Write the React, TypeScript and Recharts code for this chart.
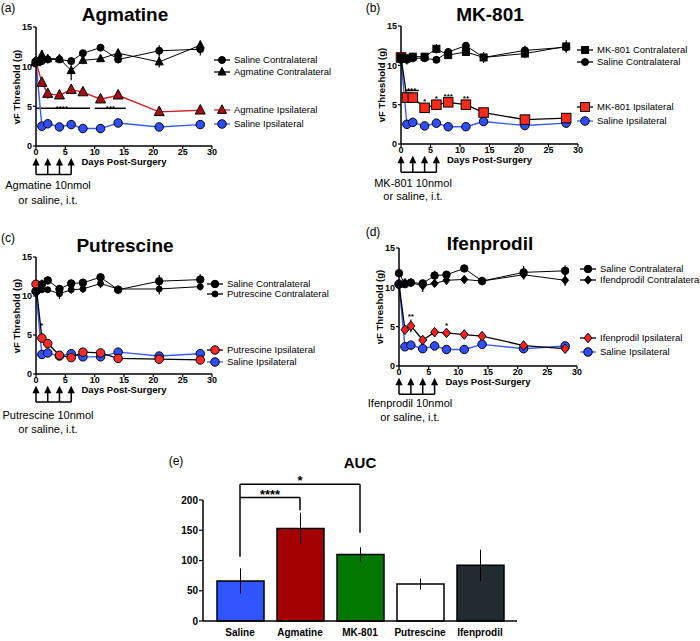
import React from "react";
import {
  Bar,
  BarChart,
  Cell,
  ErrorBar,
  Line,
  LineChart,
  ReferenceDot,
  ReferenceLine,
  XAxis,
  YAxis,
} from "recharts";

const FONT = '"Liberation Sans", Arial, Helvetica, sans-serif';

// shared x values / ticks
const days = [0, 1, 2, 4, 6, 8, 11, 14, 21, 28];
const dayTicks = [0, 5, 10, 15, 20, 25, 30];
const thresholdTicks = [0, 5, 10, 15];
const doseDays = [0, 2, 4, 6];

// (a) Agmatine
const salineContraA = [10.7, 10.7, 10.9, 10.9, 10.7, 11.7, 12.4, 10.9, 12.0, 12.2];
const salineContraErrA = [0.3, 0.4, 0.4, 0.4, 0.5, 0.4, 0.3, 0.4, 0.7, 0.8];
const agmContra = [10.6, 11.5, 11.0, 11.0, 9.5, 10.8, 11.0, 11.7, 10.6, 12.7];
const agmContraErr = [0.3, 0.6, 0.5, 0.5, 1.2, 0.5, 0.4, 0.5, 0.7, 0.6];
const agmIpsi = [10.6, 8.0, 6.6, 6.4, 7.1, 6.8, 5.9, 6.4, 4.3, 4.5];
const agmIpsiErr = [0.3, 0.4, 0.6, 0.4, 0.4, 0.3, 0.5, 0.4, 0.3, 0.3];
const salineIpsiA = [10.6, 2.5, 2.8, 2.4, 2.7, 2.2, 2.2, 2.9, 2.4, 2.7];
const salineIpsiErrA = [0.3, 0.2, 0.2, 0.2, 0.2, 0.2, 0.2, 0.2, 0.2, 0.2];
const starsA = [
  { x: 4.4, y: 5.0, t: "****" },
  { x: 12.7, y: 4.95, t: "***" },
];
const sigLinesA = [
  { x1: 0, x2: 9.2, y: 4.75 },
  { x1: 10, x2: 15.3, y: 4.75 },
];

// (b) MK-801
const mkContra = [11.0, 10.9, 11.1, 11.1, 12.1, 11.3, 11.7, 11.0, 11.5, 12.4];
const mkContraErr = [0.4, 0.5, 0.5, 0.4, 0.6, 0.5, 0.5, 0.5, 0.6, 0.8];
const salineContraB = [10.8, 10.7, 10.9, 10.9, 10.7, 11.7, 12.5, 11.0, 11.9, 12.3];
const salineContraErrB = [0.4, 0.6, 0.5, 0.4, 0.4, 0.5, 0.3, 0.7, 0.6, 0.6];
const mkIpsi = [11.0, 5.9, 5.9, 4.6, 5.0, 5.3, 5.0, 4.0, 3.1, 3.3];
const mkIpsiErr = [0.4, 0.3, 0.3, 0.3, 0.3, 0.3, 0.3, 0.3, 0.3, 0.3];
const salineIpsiB = [10.8, 2.5, 2.75, 2.3, 2.65, 2.2, 2.2, 2.85, 2.35, 2.65];
const salineIpsiErrB = [0.3, 0.2, 0.2, 0.2, 0.2, 0.2, 0.2, 0.2, 0.2, 0.2];
const starsB = [
  { x: 1.8, y: 7.1, t: "***" },
  { x: 4, y: 5.7, t: "*" },
  { x: 6, y: 6.0, t: "*" },
  { x: 8, y: 6.3, t: "***" },
  { x: 11, y: 6.1, t: "**" },
];
const sigLinesB = [{ x1: 0.7, x2: 3.0, y: 6.8 }];

// (c) Putrescine
const salineContraC = [10.6, 11.5, 12.0, 10.9, 11.6, 11.7, 12.4, 10.8, 11.9, 12.1];
const salineContraErrC = [0.8, 0.6, 0.5, 0.5, 0.5, 0.5, 0.3, 0.4, 0.8, 0.7];
const putContra = [10.5, 10.8, 10.8, 10.3, 10.8, 10.9, 11.6, 10.9, 10.9, 11.2];
const putContraErr = [0.5, 0.4, 0.4, 0.7, 0.5, 0.5, 0.6, 0.4, 0.7, 0.5];
const putIpsi = [11.5, 4.6, 3.9, 2.4, 2.1, 2.8, 2.7, 2.0, 1.9, 1.8];
const putIpsiErr = [0.3, 0.3, 0.3, 0.2, 0.2, 0.2, 0.2, 0.2, 0.2, 0.2];
const salineIpsiC = [10.6, 2.5, 2.7, 2.3, 2.6, 2.2, 2.2, 2.8, 2.3, 2.6];
const salineIpsiErrC = [0.3, 0.2, 0.2, 0.2, 0.2, 0.2, 0.2, 0.2, 0.2, 0.2];
const starsC = [{ x: 1, y: 6.5, t: "*" }];

// (d) Ifenprodil
const salineContraD = [11.8, 10.4, 10.6, 10.5, 11.5, 11.6, 12.4, 10.8, 11.9, 12.1];
const salineContraErrD = [0.5, 0.4, 0.4, 0.4, 0.6, 0.5, 0.3, 0.4, 0.8, 0.7];
const ifenContra = [10.4, 10.6, 10.6, 10.2, 10.5, 10.9, 11.0, 10.8, 11.6, 10.9];
const ifenContraErr = [0.4, 0.4, 0.4, 0.8, 0.4, 0.6, 0.3, 0.4, 0.6, 0.7];
const ifenIpsi = [10.4, 4.6, 5.1, 3.3, 4.3, 4.2, 4.0, 3.8, 2.6, 2.2];
const ifenIpsiErr = [0.3, 0.4, 0.8, 0.3, 0.3, 0.3, 0.3, 0.4, 0.2, 0.2];
const salineIpsiD = [10.4, 2.45, 2.65, 2.2, 2.55, 2.1, 2.1, 2.75, 2.2, 2.55];
const salineIpsiErrD = [0.3, 0.2, 0.2, 0.2, 0.2, 0.2, 0.2, 0.2, 0.2, 0.2];
const starsD = [
  { x: 2, y: 6.5, t: "**" },
  { x: 8, y: 5.4, t: "*" },
];

// (e) AUC
const aucGroups = ["Saline", "Agmatine", "MK-801", "Putrescine", "Ifenprodil"];
const aucMean = [66, 153, 110, 61, 92];
const aucSem = [21, 26, 12, 9, 26];
const aucTicks = [0, 50, 100, 150, 200];

const BAR_COLORS = ["#2f55ff", "#a30000", "#007800", "#ffffff", "#212b30"];
const BLUE = "#2f4fff";

type Shape = "circle" | "triangle" | "square" | "diamond";
type Series = {
  name: string;
  values: number[];
  errors: number[];
  shape: Shape;
  fill: string;
  size: number;
  line: string;
  lw: number;
};

function Glyph({ cx, cy, shape, size, fill }: { cx: number; cy: number; shape: Shape; size: number; fill: string }) {
  const r = size / 2;
  const st = { fill, stroke: "#000", strokeWidth: 1 };
  if (shape === "circle") return <circle cx={cx} cy={cy} r={r} {...st} />;
  if (shape === "square") return <rect x={cx - r} y={cy - r} width={size} height={size} {...st} />;
  if (shape === "diamond")
    return <polygon points={`${cx},${cy - r * 1.2} ${cx + r},${cy} ${cx},${cy + r * 1.2} ${cx - r},${cy}`} {...st} />;
  return <polygon points={`${cx},${cy - r * 1.15} ${cx + r},${cy + r * 0.75} ${cx - r},${cy + r * 0.75}`} {...st} />;
}

function Txt({ x, y, size, bold, children, align = "center" }: any) {
  return (
    <div
      style={{
        position: "absolute",
        left: x,
        top: y,
        transform: align === "center" ? "translate(-50%,-50%)" : "translate(0,-50%)",
        fontSize: size,
        fontWeight: bold ? 700 : 400,
        lineHeight: 1,
        whiteSpace: "nowrap",
        color: "#000",
      }}
    >
      {children}
    </div>
  );
}

const axisLine = { stroke: "#000", strokeWidth: 1.5 };
const tickLine = { stroke: "#000", strokeWidth: 1.2 };
const tickFont = { fontSize: 9, fontWeight: 700, fill: "#000", fontFamily: FONT };

// draw saline ipsi first, then drug ipsi, then the contralateral groups on top
const drawOrder = [3, 2, 0, 1];

type PanelProps = {
  plot: { l: number; t: number; r: number; b: number };
  series: Series[];
  legendX: number;
  legendYs: number[];
  title: string;
  titleX: number;
  titleY: number;
  letter: string;
  letterX: number;
  letterY: number;
  dose: string[];
  doseX: number;
  doseY: number;
  doseGap: number;
  stars: { x: number; y: number; t: string }[];
  sigLines: { x1: number; x2: number; y: number }[];
};

function LinePanel(p: PanelProps) {
  const { plot } = p;
  const width = plot.r - plot.l + 44;
  const height = plot.b - plot.t + 61;
  const data = days.map((d, i) => {
    const row: Record<string, number> = { day: d };
    p.series.forEach((s, k) => {
      row[`v${k}`] = s.values[i];
      row[`e${k}`] = s.errors[i];
    });
    return row;
  });
  const cx = (plot.l + plot.r) / 2;
  const cy = (plot.t + plot.b) / 2;
  return (
    <>
      <div style={{ position: "absolute", left: plot.l - 36, top: plot.t - 27 }}>
        <LineChart width={width} height={height} data={data} margin={{ top: 27, right: 8, bottom: 22, left: 14 }}>
          <XAxis
            type="number"
            dataKey="day"
            domain={[0, 30]}
            ticks={dayTicks}
            interval={0}
            height={12}
            tickSize={3}
            tickMargin={0}
            axisLine={axisLine}
            tickLine={tickLine}
            tick={tickFont}
          />
          <YAxis
            type="number"
            domain={[0, 15]}
            ticks={thresholdTicks}
            interval={0}
            width={22}
            tickSize={3}
            tickMargin={1}
            axisLine={axisLine}
            tickLine={tickLine}
            tick={tickFont}
          />
          {p.sigLines.map((s, i) => (
            <ReferenceLine
              key={`sig${i}`}
              segment={[
                { x: s.x1, y: s.y },
                { x: s.x2, y: s.y },
              ]}
              stroke="#000"
              strokeWidth={1.5}
              ifOverflow="visible"
            />
          ))}
          {/* dosing arrows under the axis */}
          <ReferenceLine
            segment={[
              { x: 0, y: -3.6 },
              { x: 6, y: -3.6 },
            ]}
            stroke="#000"
            strokeWidth={1.5}
            ifOverflow="visible"
          />
          {doseDays.map((d) => (
            <ReferenceLine
              key={`stem${d}`}
              segment={[
                { x: d, y: -2.2 },
                { x: d, y: -3.6 },
              ]}
              stroke="#000"
              strokeWidth={1.5}
              ifOverflow="visible"
            />
          ))}
          {doseDays.map((d) => (
            <ReferenceDot
              key={`head${d}`}
              x={d}
              y={-1.5}
              ifOverflow="visible"
              shape={(q: any) => (
                <polygon points={`${q.cx},${q.cy} ${q.cx + 3.6},${q.cy + 7.5} ${q.cx - 3.6},${q.cy + 7.5}`} fill="#000" />
              )}
            />
          ))}
          {drawOrder.map((k) => {
            const s = p.series[k];
            return (
              <Line
                key={k}
                dataKey={`v${k}`}
                type="linear"
                stroke={s.line}
                strokeWidth={s.lw}
                isAnimationActive={false}
                activeDot={false}
                dot={(q: any) => (
                  <Glyph key={`g${k}-${q.index}`} cx={q.cx} cy={q.cy} shape={s.shape} size={s.size} fill={s.fill} />
                )}
              >
                <ErrorBar dataKey={`e${k}`} width={0} stroke="#000" strokeWidth={1.2} direction="y" />
              </Line>
            );
          })}
          {p.stars.map((s, i) => (
            <ReferenceDot
              key={`star${i}`}
              x={s.x}
              y={s.y}
              ifOverflow="visible"
              shape={(q: any) => (
                <text
                  x={q.cx}
                  y={q.cy + 4.6}
                  textAnchor="middle"
                  fontSize={8}
                  fontWeight={700}
                  fontFamily={FONT}
                  fill="#000"
                >
                  {s.t}
                </text>
              )}
            />
          ))}
        </LineChart>
      </div>
      <Txt x={p.letterX} y={p.letterY} size={12}>
        {p.letter}
      </Txt>
      <Txt x={p.titleX} y={p.titleY} size={19} bold>
        {p.title}
      </Txt>
      <div
        style={{
          position: "absolute",
          left: plot.l - 19,
          top: cy,
          transform: "translate(-50%,-50%) rotate(-90deg)",
          fontSize: 9.5,
          fontWeight: 700,
          lineHeight: 1,
          whiteSpace: "nowrap",
        }}
      >
        vF Threshold (g)
      </div>
      <Txt x={cx} y={plot.b + 16} size={9.5} bold>
        Days Post-Surgery
      </Txt>
      {p.dose.map((t, i) => (
        <Txt key={t} x={p.doseX} y={p.doseY + i * p.doseGap} size={11}>
          {t}
        </Txt>
      ))}
      {p.series.map((s, k) => (
        <div
          key={`leg${k}`}
          style={{
            position: "absolute",
            left: p.legendX - 8,
            top: p.legendYs[k] - 6,
            height: 12,
            display: "flex",
            alignItems: "center",
            whiteSpace: "nowrap",
          }}
        >
          <svg width={16} height={12} style={{ display: "block" }}>
            <line x1={0} y1={6} x2={16} y2={6} stroke={s.line} strokeWidth={1.3} />
            <Glyph cx={8} cy={6} shape={s.shape} size={Math.min(s.size, 9)} fill={s.fill} />
          </svg>
          <span style={{ marginLeft: 4, fontSize: 9.5, lineHeight: 1 }}>{s.name}</span>
        </div>
      ))}
    </>
  );
}

const blackSeries = (name: string, values: number[], errors: number[], shape: Shape, size: number): Series => ({
  name,
  values,
  errors,
  shape,
  fill: "#000",
  size,
  line: "#000",
  lw: 1,
});

function AucPanel() {
  const data = aucGroups.map((g, i) => ({ group: g, auc: aucMean[i], sem: aucSem[i] }));
  return (
    <>
      <div style={{ position: "absolute", left: 163, top: 464 }}>
        <BarChart width={360} height={177} data={data} margin={{ top: 36, right: 6, bottom: 0, left: 10 }}>
          <XAxis
            dataKey="group"
            height={20}
            padding={{ left: 7, right: 7 }}
            interval={0}
            axisLine={axisLine}
            tickLine={false}
            tick={{ ...tickFont, fontSize: 10 }}
          />
          <YAxis
            type="number"
            domain={[0, 200]}
            ticks={aucTicks}
            interval={0}
            width={30}
            tickSize={4}
            tickMargin={1}
            axisLine={axisLine}
            tickLine={tickLine}
            tick={{ ...tickFont, fontSize: 10 }}
          />
          <Bar dataKey="auc" barSize={47} stroke="#000" strokeWidth={1.5} isAnimationActive={false}>
            {data.map((d, i) => (
              <Cell key={d.group} fill={BAR_COLORS[i]} />
            ))}
            <ErrorBar dataKey="sem" width={0} stroke="#000" strokeWidth={1} direction="y" />
          </Bar>
          <ReferenceLine
            segment={[
              { x: "Saline", y: 106 },
              { x: "Saline", y: 226 },
            ]}
            stroke="#000"
            strokeWidth={1.5}
            ifOverflow="visible"
          />
          <ReferenceLine
            segment={[
              { x: "Saline", y: 226 },
              { x: "MK-801", y: 226 },
            ]}
            stroke="#000"
            strokeWidth={1.5}
            ifOverflow="visible"
            label={{ value: "*", position: "top", offset: -1, fontSize: 13, fontWeight: 700, fill: "#000" }}
          />
          <ReferenceLine
            segment={[
              { x: "MK-801", y: 226 },
              { x: "MK-801", y: 146 },
            ]}
            stroke="#000"
            strokeWidth={1.5}
            ifOverflow="visible"
          />
          <ReferenceLine
            segment={[
              { x: "Saline", y: 204 },
              { x: "Agmatine", y: 204 },
            ]}
            stroke="#000"
            strokeWidth={1.5}
            ifOverflow="visible"
            label={{ value: "****", position: "top", offset: -1, fontSize: 13, fontWeight: 700, fill: "#000" }}
          />
          <ReferenceLine
            segment={[
              { x: "Agmatine", y: 204 },
              { x: "Agmatine", y: 183 },
            ]}
            stroke="#000"
            strokeWidth={1.5}
            ifOverflow="visible"
          />
        </BarChart>
      </div>
      <Txt x={176} y={461} size={12}>
        (e)
      </Txt>
      <Txt x={360} y={462} size={15} bold>
        AUC
      </Txt>
    </>
  );
}

export default function App() {
  return (
    <div
      style={{
        position: "absolute",
        left: 0,
        top: 0,
        width: 700,
        height: 641,
        background: "#fff",
        overflow: "hidden",
        fontFamily: FONT,
      }}
    >
      <LinePanel
        plot={{ l: 36, t: 27, r: 212, b: 146 }}
        series={[
          blackSeries("Saline Contralateral", salineContraA, salineContraErrA, "circle", 7),
          blackSeries("Agmatine Contralateral", agmContra, agmContraErr, "triangle", 8),
          { name: "Agmatine Ipsilateral", values: agmIpsi, errors: agmIpsiErr, shape: "triangle", fill: "#a50f14", size: 10, line: "#cc2222", lw: 1.4 },
          { name: "Saline Ipsilateral", values: salineIpsiA, errors: salineIpsiErrA, shape: "circle", fill: BLUE, size: 8.5, line: "#3a5bff", lw: 1.4 },
        ]}
        legendX={222}
        legendYs={[60, 72, 110, 124]}
        title="Agmatine"
        titleX={125}
        titleY={14}
        letter="(a)"
        letterX={8}
        letterY={8}
        dose={["Agmatine 10nmol", "or saline, i.t."]}
        doseX={48}
        doseY={185}
        doseGap={15}
        stars={starsA}
        sigLines={sigLinesA}
      />
      <LinePanel
        plot={{ l: 401, t: 26, r: 578, b: 144 }}
        series={[
          blackSeries("MK-801 Contralateral", mkContra, mkContraErr, "square", 7),
          blackSeries("Saline Contralateral", salineContraB, salineContraErrB, "circle", 7),
          { name: "MK-801 Ipsilateral", values: mkIpsi, errors: mkIpsiErr, shape: "square", fill: "#ff2a1a", size: 9.5, line: "#000", lw: 1.3 },
          { name: "Saline Ipsilateral", values: salineIpsiB, errors: salineIpsiErrB, shape: "circle", fill: BLUE, size: 8.5, line: "#3a5bff", lw: 1.4 },
        ]}
        legendX={585}
        legendYs={[50, 62, 107, 121]}
        title="MK-801"
        titleX={490}
        titleY={14}
        letter="(b)"
        letterX={373}
        letterY={8}
        dose={["MK-801 10nmol", "or saline, i.t."]}
        doseX={413}
        doseY={183}
        doseGap={13}
        stars={starsB}
        sigLines={sigLinesB}
      />
      <LinePanel
        plot={{ l: 36, t: 257, r: 212, b: 374 }}
        series={[
          blackSeries("Saline Contralateral", salineContraC, salineContraErrC, "circle", 7.5),
          blackSeries("Putrescine Contralateral", putContra, putContraErr, "circle", 6),
          { name: "Putrescine Ipsilateral", values: putIpsi, errors: putIpsiErr, shape: "circle", fill: "#ff2a2a", size: 8.5, line: "#000", lw: 1.3 },
          { name: "Saline Ipsilateral", values: salineIpsiC, errors: salineIpsiErrC, shape: "circle", fill: BLUE, size: 8.5, line: "#3a5bff", lw: 1.4 },
        ]}
        legendX={215}
        legendYs={[284, 294, 350, 362]}
        title="Putrescine"
        titleX={125}
        titleY={245}
        letter="(c)"
        letterX={8}
        letterY={238}
        dose={["Putrescine 10nmol", "or saline, i.t."]}
        doseX={48}
        doseY={415}
        doseGap={14}
        stars={starsC}
        sigLines={[]}
      />
      <LinePanel
        plot={{ l: 399, t: 248, r: 577, b: 366 }}
        series={[
          blackSeries("Saline Contralateral", salineContraD, salineContraErrD, "circle", 7.5),
          blackSeries("Ifendprodil Contralateral", ifenContra, ifenContraErr, "diamond", 7),
          { name: "Ifenprodil Ipsilateral", values: ifenIpsi, errors: ifenIpsiErr, shape: "diamond", fill: "#ff1f1f", size: 8, line: "#000", lw: 1.3 },
          { name: "Saline Ipsilateral", values: salineIpsiD, errors: salineIpsiErrD, shape: "circle", fill: BLUE, size: 8.5, line: "#3a5bff", lw: 1.4 },
        ]}
        legendX={588}
        legendYs={[269, 280, 338, 352]}
        title="Ifenprodil"
        titleX={490}
        titleY={243}
        letter="(d)"
        letterX={373}
        letterY={232}
        dose={["Ifenprodil 10nmol", "or saline, i.t."]}
        doseX={410}
        doseY={403}
        doseGap={14}
        stars={starsD}
        sigLines={[]}
      />
      <AucPanel />
    </div>
  );
}
